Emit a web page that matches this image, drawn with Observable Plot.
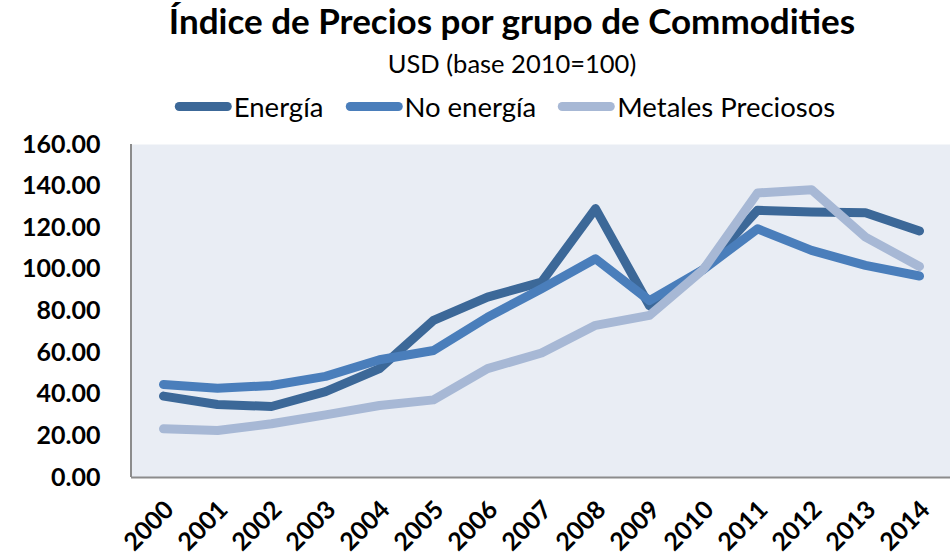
<!DOCTYPE html>
<html>
<head>
<meta charset="utf-8">
<script src="https://cdn.jsdelivr.net/npm/d3@7"></script>
<script src="https://cdn.jsdelivr.net/npm/@observablehq/plot@0.6"></script>
<style>
  body { margin: 0; background: #fff; font-family: Lato, "Open Sans", sans-serif; }
  #wrap { position: relative; width: 950px; height: 557px; overflow: hidden; }
  #header { position: relative; width: 950px; height: 132px; }
  .c { position: absolute; left: 512px; transform: translateX(-50%); white-space: nowrap; color: #000; line-height: 1.2; }
  #title { top: -1px; font-size: 35px; font-weight: 700; }
  #subtitle { top: 48px; font-size: 25.5px; }
  #legend { top: 90px; font-size: 27.5px; display: flex; align-items: center; left: 505px; }
  .item { display: flex; align-items: center; margin-right: 22px; }
  .item:last-child { margin-right: 0; }
  .sw { width: 57px; height: 9px; border-radius: 4.5px; margin-right: 2px; }
</style>
</head>
<body>
<div id="wrap">
  <div id="header">
    <div id="title" class="c">Índice de Precios por grupo de Commodities</div>
    <div id="subtitle" class="c">USD (base 2010=100)</div>
    <div id="legend" class="c"></div>
  </div>
  <div id="chart"></div>
</div>
<script>
const years = ["2000","2001","2002","2003","2004","2005","2006","2007","2008","2009","2010","2011","2012","2013","2014"];
const energia = [39.1, 35.1, 34.1, 41.3, 52.3, 75.5, 86.7, 93.9, 129.2, 82.5, 100, 128.4, 127.6, 127.2, 118.4];
const noEnergia = [44.7, 42.9, 44.2, 48.6, 56.6, 61.0, 77.0, 90.7, 105.1, 85.0, 100, 119.5, 109.1, 101.9, 96.8];
const metales = [23.4, 22.6, 25.8, 30.1, 34.6, 37.3, 52.3, 59.8, 73.1, 77.9, 100, 136.7, 138.3, 115.5, 101.4];
const seriesNames = ["Energía", "No energía", "Metales Preciosos"];
const seriesColors = ["#3C6898", "#4A7EBB", "#A7B8D5"];
const yTicks = [0, 20, 40, 60, 80, 100, 120, 140, 160];

const seriesValues = [energia, noEnergia, metales];
const data = seriesNames.flatMap((name, i) => years.map((year, j) => ({year, value: seriesValues[i][j], series: name})));

const legend = document.getElementById("legend");
seriesNames.forEach((n, i) => {
  const it = document.createElement("div");
  it.className = "item";
  it.innerHTML = `<span class="sw" style="background:${seriesColors[i]}"></span><span>${n}</span>`;
  legend.appendChild(it);
});

const leftLine = (index, scales, values, dims) => {
  const g = document.createElementNS("http://www.w3.org/2000/svg", "line");
  g.setAttribute("x1", dims.marginLeft);
  g.setAttribute("x2", dims.marginLeft);
  g.setAttribute("y1", dims.marginTop);
  g.setAttribute("y2", dims.height - dims.marginBottom);
  g.setAttribute("stroke", "#8C8C8C");
  g.setAttribute("stroke-width", 2);
  return g;
};

const chart = Plot.plot({
  width: 950,
  height: 425,
  marginTop: 12,
  marginBottom: 80,
  marginLeft: 131,
  marginRight: 0,
  style: { fontFamily: "Lato, 'Open Sans', sans-serif", background: "#fff", overflow: "visible" },
  x: { type: "point", domain: years, padding: 0.5 },
  y: { domain: [0, 160] },
  color: { domain: seriesNames, range: seriesColors },
  marks: [
    Plot.frame({ fill: "#E9EDF4", stroke: "none" }),
    leftLine,
    Plot.ruleY([0], { stroke: "#8C8C8C", strokeWidth: 2 }),
    Plot.axisY({ ticks: yTicks, tickFormat: d3.format(".2f"), tickSize: 0, tickPadding: 31, fontSize: 25, fontWeight: 700, label: null, fill: "#000" }),
    Plot.axisX({ tickSize: 0, tickPadding: 28, dx: 6, tickRotate: -45, fontSize: 25, fontWeight: 700, label: null, fill: "#000" }),
    Plot.line(data, { x: "year", y: "value", z: "series", stroke: "series", strokeWidth: 9, strokeLinecap: "round", strokeLinejoin: "round" })
  ]
});
document.getElementById("chart").appendChild(chart);
</script>
</body>
</html>
